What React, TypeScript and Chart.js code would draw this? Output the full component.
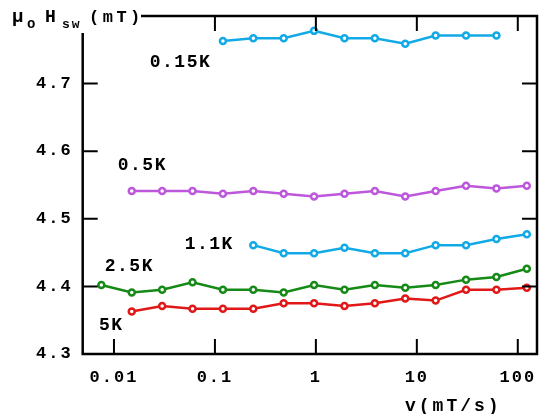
import React, { useEffect, useRef } from 'react';
import { Chart, registerables } from 'chart.js';

Chart.register(...registerables);

// sweep rates v (mT/s), factor-2 steps
const sweepRates = [0.0075, 0.015, 0.03, 0.06, 0.12, 0.24, 0.48, 0.96, 1.92, 3.84, 7.68, 15.36, 30.72, 61.44, 122.88];

const rates015K = sweepRates.slice(4, 14);
const field015K = [4.763, 4.767, 4.767, 4.778, 4.767, 4.767, 4.759, 4.771, 4.771, 4.771];

const rates05K = sweepRates.slice(1, 15);
const field05K = [4.541, 4.541, 4.541, 4.537, 4.541, 4.537, 4.533, 4.537, 4.541, 4.533, 4.541, 4.549, 4.545, 4.549];

const rates11K = sweepRates.slice(5, 15);
const field11K = [4.461, 4.449, 4.449, 4.457, 4.449, 4.449, 4.461, 4.461, 4.47, 4.477];

const rates25K = sweepRates.slice(0, 15);
const field25K = [4.402, 4.391, 4.395, 4.406, 4.395, 4.395, 4.391, 4.402, 4.395, 4.402, 4.398, 4.402, 4.41, 4.414, 4.426];

const rates5K = sweepRates.slice(1, 15);
const field5K = [4.363, 4.371, 4.367, 4.367, 4.367, 4.375, 4.375, 4.371, 4.375, 4.382, 4.379, 4.395, 4.395, 4.398];

const seriesColors = ['#12AAE6', '#BD57DC', '#168A16', '#E01818'];

// annotation labels placed in data coordinates (left, baseline)
const tempLabels = ['0.15K', '0.5K', '1.1K', '2.5K', '5K'];
const tempLabelX = [0.0226, 0.0109, 0.0502, 0.0081, 0.0071];
const tempLabelY = [4.725, 4.5728, 4.455, 4.4227, 4.3361];

const xTickValues = [0.01, 0.1, 1, 10, 100];
const xTickLabels = ['0.01', '0.1', '1', '10', '100'];
const yTickValues = [4.3, 4.4, 4.5, 4.6, 4.7, 4.8];
const yTickLabels = ['4.3', '4.4', '4.5', '4.6', '4.7', ''];

const xMin = 0.0049;
const xMax = 155;
const yMin = 4.3;
const yMax = 4.8;

const FONT = "'Liberation Mono', 'DejaVu Sans Mono', monospace";

const pairs = (xs: number[], ys: number[]) => xs.map((x, i) => ({ x, y: ys[i] }));

const framePlugin = {
  id: 'frame',
  beforeDraw(chart: any) {
    chart.ctx.letterSpacing = '2px';
  },
  afterDraw(chart: any) {
    const { ctx, chartArea: a, scales } = chart;
    const xs = scales.x;
    const ys = scales.y;
    ctx.save();
    ctx.strokeStyle = '#000';
    ctx.lineWidth = 2.5;
    ctx.strokeRect(a.left, a.top, a.right - a.left, a.bottom - a.top);
    ctx.lineWidth = 2;
    const tl = 15;
    ctx.beginPath();
    xTickValues.forEach((v) => {
      const px = xs.getPixelForValue(v);
      ctx.moveTo(px, a.bottom);
      ctx.lineTo(px, a.bottom - tl);
      ctx.moveTo(px, a.top);
      ctx.lineTo(px, a.top + tl);
    });
    yTickValues.forEach((v) => {
      if (v <= yMin || v >= yMax) return;
      const py = ys.getPixelForValue(v);
      ctx.moveTo(a.left, py);
      ctx.lineTo(a.left + tl, py);
      ctx.moveTo(a.right, py);
      ctx.lineTo(a.right - tl, py);
    });
    ctx.stroke();

    // y-axis title with white backing
    ctx.fillStyle = '#fff';
    ctx.fillRect(0, 0, 141, 33);
    ctx.fillStyle = '#000';
    ctx.textAlign = 'left';
    ctx.textBaseline = 'alphabetic';
    ctx.letterSpacing = '1px';
    ctx.font = `bold 19px ${FONT}`;
    ctx.fillText('μ', 12, 22);
    ctx.font = `bold 14px ${FONT}`;
    ctx.fillText('o', 27, 28);
    ctx.font = `bold 18px ${FONT}`;
    ctx.fillText('H', 45, 22);
    ctx.font = `bold 13px ${FONT}`;
    ctx.letterSpacing = '2px';
    ctx.fillText('sw', 62, 28);
    ctx.font = `bold 17px ${FONT}`;
    ctx.letterSpacing = '3.5px';
    ctx.fillText('(mT)', 89, 22);

    // x-axis title
    ctx.font = `bold 18px ${FONT}`;
    ctx.letterSpacing = '3px';
    ctx.fillText('v(mT/s)', 405, 411);

    // temperature labels
    ctx.font = `bold 18px ${FONT}`;
    ctx.letterSpacing = '1.5px';
    tempLabels.forEach((t, i) => {
      ctx.fillText(t, xs.getPixelForValue(tempLabelX[i]), ys.getPixelForValue(tempLabelY[i]));
    });
    ctx.restore();
  },
};

export default function App() {
  const ref = useRef<HTMLCanvasElement>(null);
  useEffect(() => {
    const mk = (data: { x: number; y: number }[], color: string) => ({
      data,
      borderColor: color,
      backgroundColor: '#fff',
      pointBackgroundColor: '#fff',
      pointBorderColor: color,
      pointRadius: 3,
      pointBorderWidth: 2.5,
      borderWidth: 2.5,
      tension: 0,
    });
    const chart = new Chart(ref.current!, {
      type: 'line',
      data: {
        datasets: [
          mk(pairs(rates015K, field015K), seriesColors[0]),
          mk(pairs(rates05K, field05K), seriesColors[1]),
          mk(pairs(rates11K, field11K), seriesColors[0]),
          mk(pairs(rates25K, field25K), seriesColors[2]),
          mk(pairs(rates5K, field5K), seriesColors[3]),
        ] as any,
      },
      options: {
        responsive: false,
        animation: false,
        events: [],
        layout: { padding: { left: 0, right: 14, top: 16, bottom: 0 } },
        plugins: { legend: { display: false }, tooltip: { enabled: false }, title: { display: false } },
        scales: {
          x: {
            type: 'logarithmic',
            min: xMin,
            max: xMax,
            grid: { display: false, drawTicks: false },
            border: { display: false },
            afterBuildTicks: (s: any) => {
              s.ticks = xTickValues.map((v) => ({ value: v }));
            },
            afterFit: (s: any) => {
              s.height = 60;
              s.paddingLeft = 0;
              s.paddingRight = 0;
            },
            ticks: {
              autoSkip: false,
              maxRotation: 0,
              padding: 14,
              color: '#000',
              font: { family: FONT, size: 17, weight: 'bold' },
              callback: (v: any) => {
                const i = xTickValues.indexOf(Number(v));
                return i >= 0 ? xTickLabels[i] : '';
              },
            },
          },
          y: {
            type: 'linear',
            min: yMin,
            max: yMax,
            grid: { display: false, drawTicks: false },
            border: { display: false },
            afterBuildTicks: (s: any) => {
              s.ticks = yTickValues.map((v) => ({ value: v }));
            },
            afterFit: (s: any) => {
              s.width = 82.7;
              s.paddingTop = 0;
              s.paddingBottom = 0;
            },
            ticks: {
              padding: 10,
              color: '#000',
              font: { family: FONT, size: 17, weight: 'bold' },
              callback: (v: any) => {
                const i = yTickValues.findIndex((t) => Math.abs(t - Number(v)) < 1e-6);
                return i >= 0 ? yTickLabels[i] : '';
              },
            },
          },
        },
      } as any,
      plugins: [framePlugin],
    });
    return () => chart.destroy();
  }, []);
  return (
    <div style={{ position: 'fixed', left: 0, top: 0, width: 551, height: 414, background: '#fff' }}>
      <canvas ref={ref} width={551} height={414} style={{ display: 'block' }} />
    </div>
  );
}
